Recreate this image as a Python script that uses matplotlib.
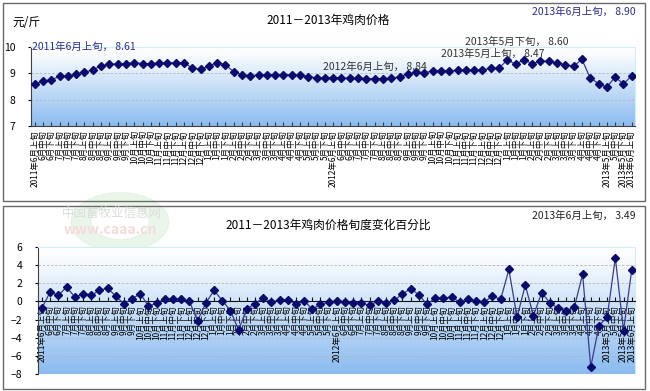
import numpy as np
import matplotlib.pyplot as plt
from matplotlib.colors import LinearSegmentedColormap
from matplotlib.patches import Rectangle, Wedge

plt.rcParams['font.family'] = ['Noto Sans CJK SC', 'DejaVu Sans']

# chicken price, yuan/jin, every ten days from 2011-06 (first) to 2013-06 (first)
price = [8.61, 8.69, 8.76, 8.88, 8.89, 8.98, 9.04, 9.14, 9.28, 9.35,
         9.35, 9.36, 9.41, 9.37, 9.37, 9.38, 9.40, 9.40, 9.40, 9.20,
         9.16, 9.28, 9.41, 9.32, 9.06, 8.95, 8.91, 8.94, 8.95, 8.95,
         8.95, 8.94, 8.94, 8.87, 8.83, 8.82, 8.84, 8.82, 8.81, 8.81,
         8.80, 8.80, 8.80, 8.81, 8.87, 8.98, 9.04, 9.02, 9.09, 9.10,
         9.10, 9.11, 9.12, 9.12, 9.13, 9.19, 9.20, 9.51, 9.35, 9.51,
         9.37, 9.46, 9.46, 9.40, 9.33, 9.27, 9.53, 8.82, 8.61, 8.47,
         8.86, 8.60, 8.90]

# change against the previous period, %
change = [-0.70, 1.04, 0.67, 1.59, 0.48, 0.85, 0.67, 1.22, 1.48, 0.59,
          -0.26, 0.30, 0.85, -0.52, -0.19, 0.30, 0.22, 0.22, 0.00, -2.11,
          -0.19, 1.22, 0.10, -1.00, -3.15, -0.80, -0.26, 0.37, -0.07, 0.15,
          0.15, -0.26, 0.07, -0.85, -0.30, -0.07, 0.05, -0.07, -0.19, -0.19,
          -0.44, 0.04, -0.19, 0.11, 0.81, 1.41, 0.74, -0.33, 0.37, 0.37,
          0.48, -0.07, 0.30, 0.04, -0.07, 0.59, 0.22, 3.52, -1.74, 1.78,
          -1.56, 0.96, -0.15, -0.74, -1.00, -0.63, 3.00, -7.22, -2.67, -1.74,
          4.81, -3.22, 3.49]

# tick labels: 6月上旬, 6月中旬 ... with the year on a few of them
with_year = [0, 36, 69, 71, 72]
xlabels = []
for i in range(len(price)):
    m = (5 + i // 3) % 12 + 1
    yr = 2011 + (5 + i // 3) // 12
    s = f'{m}月{"上中下"[i % 3]}旬'
    if i in with_year:
        s = f'{yr}年' + s
    xlabels.append(s)

x = np.arange(len(price))
W, H = 650, 391


def fx(px):
    return px / W


def fy(py):
    return 1 - py / H


fig = plt.figure(figsize=(6.5, 3.91), dpi=100)

# panel frames
fig.add_artist(Rectangle((fx(3), fy(201)), 642 / W, 198 / H, transform=fig.transFigure,
                         fill=False, ec='#6a6a6a', lw=1))
fig.add_artist(Rectangle((fx(3), fy(389)), 642 / W, 183 / H, transform=fig.transFigure,
                         fill=False, ec='#6a6a6a', lw=1))

# faint watermark
fig.add_artist(Wedge((fx(120), fy(222)), 0.075, 0, 360, width=0.03, transform=fig.transFigure,
                     color='#dcefdc', alpha=0.55, zorder=0))
fig.text(fx(62), fy(213), '中国畜牧业信息网', fontsize=9, color='#d8ded8', va='center')
fig.text(fx(64), fy(230), 'www.caaa.cn', fontsize=10, fontweight='bold', color='#f6dada', va='center')

cmap = LinearSegmentedColormap.from_list('bg', [(0, '#ffffff'), (0.12, '#f6fafe'), (1, '#8bbbf0')])
grad = np.linspace(0, 1, 256).reshape(-1, 1)
line_kw = dict(color='#3a3a90', lw=0.9, marker='D', ms=3.6, mfc='#0b0b6e', mec='#0b0b6e', zorder=3)

# top chart: price
ax1 = fig.add_axes([fx(31), fy(126), 604 / W, 79 / H])
xl1 = (-0.45, 72.4)
ax1.imshow(grad, cmap=cmap, extent=[xl1[0], xl1[1], 7, 10], aspect='auto', zorder=0)
for v in [8, 9]:
    ax1.axhline(v, color='#b4b4b4', lw=0.6, ls=(0, (3, 2)), zorder=1)
ax1.plot(x, price, **line_kw)
ax1.set_xlim(*xl1)
ax1.set_ylim(7, 10)
ax1.set_yticks([7, 8, 9, 10])
ax1.set_xticks(x)
ax1.set_xticklabels(xlabels, rotation=90, fontsize=6)
ax1.tick_params(axis='x', direction='in', length=3, pad=3, color='#404040')
ax1.tick_params(axis='y', direction='out', length=2, pad=9, labelsize=7.5)
for s in ['left', 'bottom']:
    ax1.spines[s].set_color('#404040')
for s in ['top', 'right']:
    ax1.spines[s].set_color('#cdeef6')

fig.text(fx(12), fy(23), '元/斤', fontsize=8.5, va='center')
fig.text(fx(328), fy(20), '2011－2013年鸡肉价格', fontsize=8.5, ha='center', va='center')
fig.text(fx(636), fy(12), '2013年6月上旬， 8.90', fontsize=7.5, ha='right', va='center', color='#2b2b8c')
fig.text(fx(32), fy(47), '2011年6月上旬， 8.61', fontsize=7.5, va='center', color='#2b2b8c')
fig.text(fx(323), fy(67), '2012年6月上旬， 8.84', fontsize=7.5, va='center', color='#333333')
fig.text(fx(441), fy(54), '2013年5月上旬， 8.47', fontsize=7.5, va='center', color='#333333')
fig.text(fx(465), fy(42), '2013年5月下旬， 8.60', fontsize=7.5, va='center', color='#333333')

# bottom chart: change in percent
ax2 = fig.add_axes([fx(38), fy(374), 597 / W, 127 / H])
ax2.spines['bottom'].set_position(('data', 0))
xl2 = (-0.49, 72.4)
ax2.imshow(grad, cmap=cmap, extent=[xl2[0], xl2[1], -8, 6], aspect='auto', zorder=0)
for v in [-6, -4, -2, 2, 4]:
    ax2.axhline(v, color='#b4b4b4', lw=0.6, ls=(0, (3, 2)), zorder=1)
ax2.plot(x, change, **line_kw)
ax2.set_xlim(*xl2)
ax2.set_ylim(-8, 6)
ax2.set_yticks(range(-8, 7, 2))
ax2.set_xticks(x)
ax2.set_xticklabels(xlabels, rotation=90, fontsize=6)
ax2.spines['bottom'].set_color('#111111')
ax2.spines['left'].set_color('#404040')
for s in ['top', 'right']:
    ax2.spines[s].set_color('#cdeef6')
ax2.tick_params(axis='x', direction='in', length=3, pad=3, color='#111111')
ax2.tick_params(axis='y', direction='out', length=2, pad=9, labelsize=7.5)

fig.text(fx(328), fy(225), '2011－2013年鸡肉价格旬度变化百分比', fontsize=8.5, ha='center', va='center')
fig.text(fx(636), fy(216), '2013年6月上旬， 3.49', fontsize=7.5, ha='right', va='center', color='#222222')

fig.savefig('out.png', dpi=100)
